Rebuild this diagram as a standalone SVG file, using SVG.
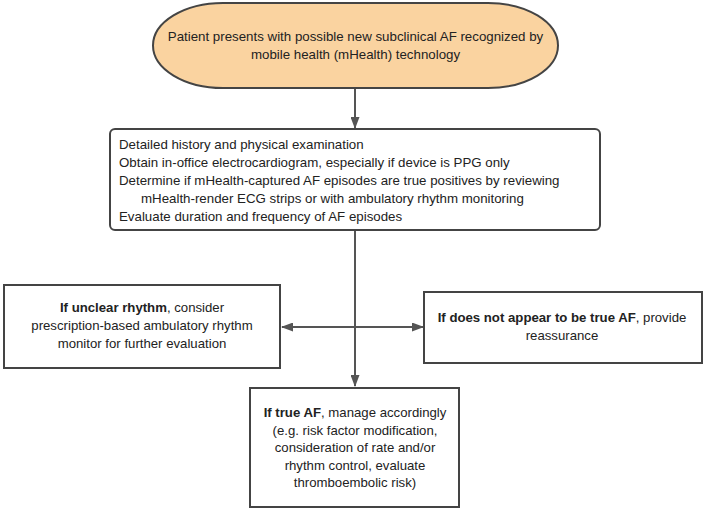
<svg xmlns="http://www.w3.org/2000/svg" width="708" height="515" viewBox="0 0 708 515">
<style>
text{font-family:"Liberation Sans",Arial,sans-serif;fill:#222;}
.t13{font-size:13.3px;}
.t14{font-size:13.2px;}
.box{fill:#fff;stroke:#444;stroke-width:2;}
.con{stroke:#555;stroke-width:2;fill:none;}
.b{font-weight:bold;}
</style>
<defs>
<marker id="ah" viewBox="0 0 12 9" refX="11" refY="4.5" markerWidth="6" markerHeight="4.5" orient="auto-start-reverse" markerUnits="strokeWidth">
<path d="M0,0 L12,4.5 L0,9 z" fill="#555"/>
</marker>
</defs>
<g id="connectors">
<line class="con" x1="355" y1="88" x2="355" y2="128" marker-end="url(#ah)"/>
<line class="con" x1="355" y1="231" x2="355" y2="386" marker-end="url(#ah)"/>
<line class="con" x1="282" y1="327" x2="423" y2="327" marker-start="url(#ah)" marker-end="url(#ah)"/>
</g>
<g id="start">
<rect x="153" y="3" width="405" height="85" rx="70" ry="42.5" fill="#FAD3A0" stroke="#444" stroke-width="2"/>
<text style="font-size:13.3px" x="355.5" y="41" text-anchor="middle">Patient presents with possible new subclinical AF recognized by</text>
<text style="font-size:13.3px" x="355.5" y="58.5" text-anchor="middle">mobile health (mHealth) technology</text>
</g>
<g id="evaluation">
<rect class="box" x="110" y="129" width="490" height="101" rx="5"/>
<text class="t13" x="119" y="149">Detailed history and physical examination</text>
<text class="t13" x="119" y="167">Obtain in-office electrocardiogram, especially if device is PPG only</text>
<text class="t13" x="119" y="185">Determine if mHealth-captured AF episodes are true positives by reviewing</text>
<text class="t13" x="141" y="203">mHealth-render ECG strips or with ambulatory rhythm monitoring</text>
<text class="t13" x="119" y="221">Evaluate duration and frequency of AF episodes</text>
</g>
<g id="unclear">
<rect class="box" x="4" y="285" width="276" height="83"/>
<text class="t14" x="142" y="312" text-anchor="middle"><tspan class="b">If unclear rhythm</tspan>, consider</text>
<text class="t14" x="142" y="330" text-anchor="middle">prescription-based ambulatory rhythm</text>
<text class="t14" x="142" y="348" text-anchor="middle">monitor for further evaluation</text>
</g>
<g id="notaf">
<rect class="box" x="424" y="292" width="278" height="71"/>
<text class="t14" x="562" y="322" text-anchor="middle"><tspan class="b">If does not appear to be true AF</tspan>, provide</text>
<text class="t14" x="562" y="340" text-anchor="middle">reassurance</text>
</g>
<g id="trueaf">
<rect class="box" x="250" y="388" width="209" height="119"/>
<text class="t14" x="355" y="417" text-anchor="middle"><tspan class="b">If true AF</tspan>, manage accordingly</text>
<text class="t14" x="355" y="435" text-anchor="middle">(e.g. risk factor modification,</text>
<text class="t14" x="355" y="452" text-anchor="middle">consideration of rate and/or</text>
<text class="t14" x="355" y="470" text-anchor="middle">rhythm control, evaluate</text>
<text class="t14" x="355" y="487" text-anchor="middle">thromboembolic risk)</text>
</g>
</svg>
